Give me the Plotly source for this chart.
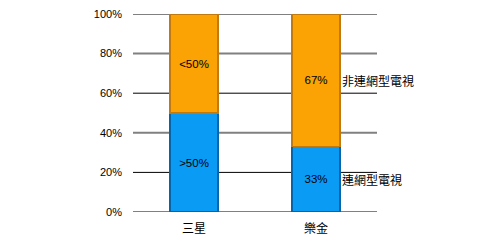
import plotly.graph_objects as go

categories = ["三星", "樂金"]
connected = [50, 33]
non_connected = [50, 67]
connected_text = [">50%", "33%"]
non_connected_text = ["<50%", "67%"]
series_names = ["連網型電視", "非連網型電視"]
y_ticks = [0, 20, 40, 60, 80, 100]
y_tick_labels = ["0%", "20%", "40%", "60%", "80%", "100%"]
dark_grid = [20, 60]

FONT = "Liberation Sans, Arial, Noto Sans CJK TC, sans-serif"
CJK = "Noto Sans CJK TC, Liberation Sans, sans-serif"

fig = go.Figure()
fig.add_trace(go.Bar(
    x=categories, y=connected, name=series_names[0],
    text=connected_text, textposition="inside", insidetextanchor="middle",
    textfont=dict(color="black", size=11.5, family=FONT),
    marker=dict(color="#0A9CF5", line=dict(color="#0565A8", width=1.5)),
    width=0.39,
))
fig.add_trace(go.Bar(
    x=categories, y=non_connected, name=series_names[1],
    text=non_connected_text, textposition="inside", insidetextanchor="middle",
    textfont=dict(color="black", size=11.5, family=FONT),
    marker=dict(color="#FBA304", line=dict(color="#C07A10", width=1.5)),
    width=0.39,
))

for v in y_ticks:
    if v in dark_grid:
        ln = dict(color="black", width=1)
    else:
        ln = dict(color="#808080", width=2)
    fig.add_shape(type="line", xref="paper", x0=0, x1=1, yref="y", y0=v, y1=v,
                  line=ln, layer="below")

# series labels to the right of last bar, at segment centres
last = categories[-1]
fig.add_annotation(x=last, y=connected[-1] / 2, text=series_names[0], showarrow=False,
                   xanchor="left", xshift=24, font=dict(size=12, color="black", family=CJK))
fig.add_annotation(x=last, y=connected[-1] + non_connected[-1] / 2, text=series_names[1], showarrow=False,
                   xanchor="left", xshift=24, font=dict(size=12, color="black", family=CJK))

fig.update_layout(
    barmode="stack",
    width=481, height=241,
    margin=dict(l=133, r=104, t=14, b=29, autoexpand=False),
    paper_bgcolor="white", plot_bgcolor="white",
    showlegend=False,
    xaxis=dict(showline=False, ticks="", range=[-0.5, 1.5], automargin=False,
               ticklabelstandoff=8,
               tickfont=dict(size=12, family=CJK, color="black")),
    yaxis=dict(range=[0, 100], tickvals=y_ticks, ticktext=y_tick_labels,
               showgrid=False, zeroline=False,
               tickfont=dict(size=11, family=FONT, color="black"), ticks="", ticklen=0,
               automargin=False),
    uniformtext=dict(mode="show", minsize=8),
)
fig.update_yaxes(ticklabelstandoff=10)
fig.write_html("out.html")
